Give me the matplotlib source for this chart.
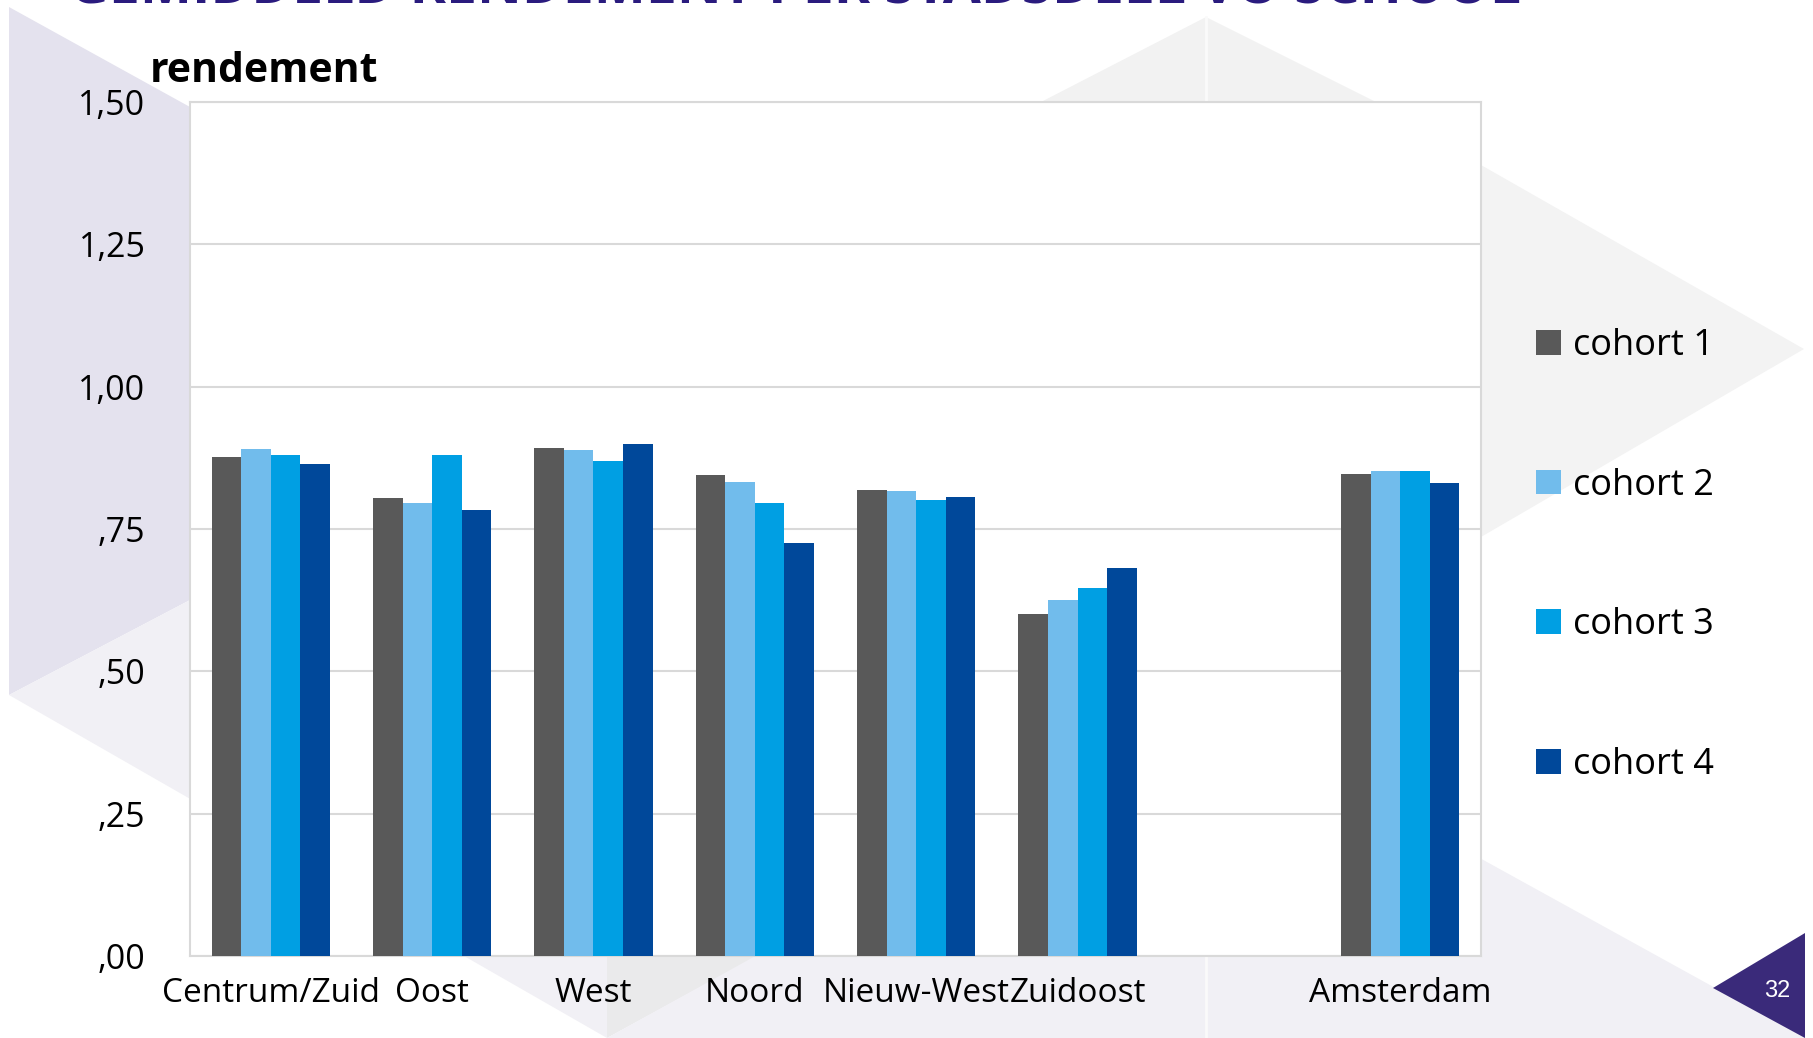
import matplotlib
matplotlib.use("Agg")
import matplotlib.pyplot as plt
from matplotlib.patches import Polygon, Patch
import numpy as np

# ---------------- data ----------------
categories = ["Centrum/Zuid", "Oost", "West", "Noord", "Nieuw-West", "Zuidoost", "", "Amsterdam"]
series_names = ["cohort 1", "cohort 2", "cohort 3", "cohort 4"]
cohort1 = [0.876, 0.805, 0.892, 0.844, 0.819, 0.600, np.nan, 0.846]
cohort2 = [0.890, 0.795, 0.888, 0.832, 0.817, 0.625, np.nan, 0.852]
cohort3 = [0.880, 0.880, 0.870, 0.795, 0.801, 0.647, np.nan, 0.852]
cohort4 = [0.864, 0.783, 0.899, 0.726, 0.807, 0.682, np.nan, 0.830]
y_ticks = [0.0, 0.25, 0.5, 0.75, 1.0, 1.25, 1.5]
y_ticklabels = [",00", ",25", ",50", ",75", "1,00", "1,25", "1,50"]
colors = ["#595959", "#71BCEC", "#009FE3", "#00489A"]
title_text = "GEMIDDELD RENDEMENT PER STADSDEEL VO SCHOOL"
ylabel_text = "rendement"
page_number = "32"

W, H = 1813, 1038
fig = plt.figure(figsize=(W / 100, H / 100), dpi=100)
fig.patch.set_facecolor("white")

FONT = ["Open Sans", "DejaVu Sans"]

# ---------------- background decoration (pixel coords) ----------------
bg = fig.add_axes([0, 0, 1, 1], zorder=0)
bg.set_xlim(0, W)
bg.set_ylim(H, 0)
bg.axis("off")

def poly(pts, color, z=0):
    bg.add_patch(Polygon(pts, closed=True, facecolor=color, edgecolor="none", zorder=z))

# left lavender
poly([(9, 7), (190, 107), (190, 600), (9, 695)], "#E4E2EE", 1)
# light lavender band under it
poly([(9, 695), (190, 600), (607, 600), (607, 1038)], "#F1F0F5", 1)
# gray sliver
poly([(607, 1038), (607, 900), (860, 900)], "#EAEAEB", 1)
# bottom big triangle
poly([(607, 1038), (1206, 707), (1806, 1038)], "#F1F0F5", 1)
# top triangle
poly([(1206, 17), (1041, 102), (1376, 102)], "#F2F2F2", 1)
# right triangle
poly([(1481, 165), (1804, 349), (1481, 537)], "#F3F3F3", 1)
# faint vertical line
bg.plot([1206, 1206], [17, 1038], color="#FAFAFA", lw=2, zorder=2)
# page number triangle
poly([(1805, 933), (1713, 988), (1805, 1038)], "#3A2A7A", 3)
bg.text(1777, 991, page_number, color="white", fontsize=17,
        family=["Liberation Sans", "DejaVu Sans"], ha="center", va="center", zorder=4)

# ---------------- main axes ----------------
left, right, top, bottom = 190, 1481, 102, 956
ax = fig.add_axes([left / W, 1 - bottom / H, (right - left) / W, (bottom - top) / H], zorder=5)
ax.set_facecolor("white")

x = np.arange(len(categories))
bw = 0.183
all_series = [cohort1, cohort2, cohort3, cohort4]
for i, (vals, name, c) in enumerate(zip(all_series, series_names, colors)):
    ax.bar(x + (i - 1.5) * bw, vals, width=bw, color=c, label=name, zorder=3, linewidth=0)

ax.set_xlim(-0.5, len(categories) - 0.5)
ax.set_ylim(0, 1.5)
ax.set_yticks(y_ticks)
ax.set_yticklabels(y_ticklabels)
ax.set_xticks(x)
ax.set_xticklabels(categories)
ax.grid(axis="y", color="#D9D9D9", lw=1.5, zorder=0)
ax.set_axisbelow(True)
for s in ax.spines.values():
    s.set_color("#D9D9D9")
    s.set_linewidth(1.5)
ax.tick_params(axis="both", length=0)
ax.tick_params(axis="y", pad=32, labelsize=24.5)
ax.tick_params(axis="x", pad=15, labelsize=24)
for lab in ax.get_xticklabels() + ax.get_yticklabels():
    lab.set_family(FONT)
    lab.set_color("black")

# y-axis title
fig.text(150 / W, 1 - 71 / H, ylabel_text, fontsize=29.5, fontweight="bold",
         family=FONT, ha="left", va="center", zorder=6)

# legend
handles = [Patch(facecolor=c, edgecolor="none") for c in colors]
leg = fig.legend(handles, series_names, loc="upper left",
                 bbox_to_anchor=(1536 / W, 1 - 328 / H), frameon=False,
                 prop={"family": FONT, "size": 26}, handlelength=0.68, handleheight=0.68,
                 handletextpad=0.35, labelspacing=2.87, borderpad=0, borderaxespad=0)

# title (cut off at top)
t = fig.text(69 / W, 1 - 4 / H, title_text, fontsize=40, fontweight="bold",
             family=FONT, color="#2A1B7E", ha="left", va="baseline", zorder=6)
fig.canvas.draw()
bb = t.get_window_extent()
t.set_fontsize(40 * 1448 / bb.width)

fig.savefig("out.png", dpi=100, facecolor="white")
